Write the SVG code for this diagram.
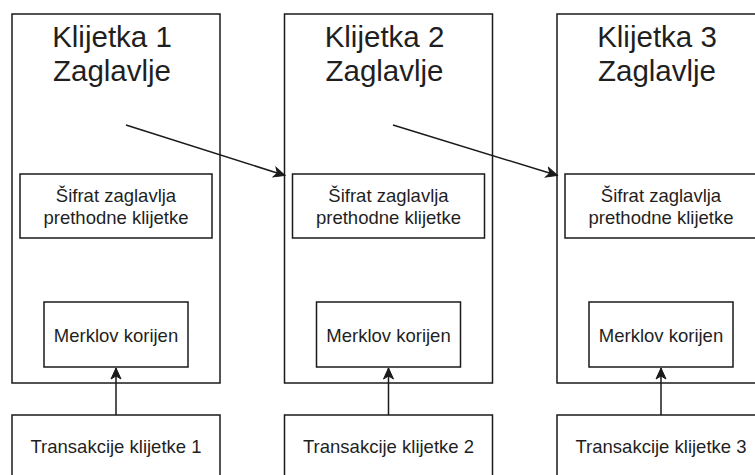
<svg xmlns="http://www.w3.org/2000/svg" width="755" height="475" viewBox="0 0 755 475">
<style>
.box{fill:#fff;stroke:#1a1a1a;stroke-width:1.5}
.t{font-family:"Liberation Sans",Arial,sans-serif;fill:#1f1f1f;text-anchor:middle}
.big{font-size:29.5px}
.sm{font-size:18.5px}
.edge{fill:none;stroke:#1a1a1a;stroke-width:1.5}
</style>
<defs>
<marker id="ah" markerUnits="userSpaceOnUse" markerWidth="14" markerHeight="12" viewBox="0 0 14 12" refX="12" refY="6" orient="auto">
<path d="M1,1 L12,6 L1,11 L4,6 Z" fill="#1a1a1a" stroke="#1a1a1a" stroke-width="1"/>
</marker>
</defs>
<rect width="755" height="475" fill="#fff"/>
<g id="block1">
<rect class="box" x="12" y="14" width="208" height="369"/>
<text class="t big" x="112" y="47">Klijetka 1</text>
<text class="t big" x="112" y="81">Zaglavlje</text>
</g>
<g id="prev1">
<rect class="box" x="20" y="174" width="192" height="64"/>
<text class="t sm" x="116" y="202">Šifrat zaglavlja</text>
<text class="t sm" x="116" y="224">prethodne klijetke</text>
</g>
<g id="merkle1">
<rect class="box" x="44" y="302" width="144" height="65"/>
<text class="t sm" x="116" y="342">Merklov korijen</text>
</g>
<g id="tx1">
<rect class="box" x="12" y="415" width="208" height="70"/>
<text class="t sm" x="116" y="453">Transakcije klijetke 1</text>
</g>
<g id="block2">
<rect class="box" x="284.5" y="14" width="208" height="369"/>
<text class="t big" x="384.5" y="47">Klijetka 2</text>
<text class="t big" x="384.5" y="81">Zaglavlje</text>
</g>
<g id="prev2">
<rect class="box" x="292.5" y="174" width="192" height="64"/>
<text class="t sm" x="388.5" y="202">Šifrat zaglavlja</text>
<text class="t sm" x="388.5" y="224">prethodne klijetke</text>
</g>
<g id="merkle2">
<rect class="box" x="316.5" y="302" width="144" height="65"/>
<text class="t sm" x="388.5" y="342">Merklov korijen</text>
</g>
<g id="tx2">
<rect class="box" x="284.5" y="415" width="208" height="70"/>
<text class="t sm" x="388.5" y="453">Transakcije klijetke 2</text>
</g>
<g id="block3">
<rect class="box" x="557" y="14" width="208" height="369"/>
<text class="t big" x="657" y="47">Klijetka 3</text>
<text class="t big" x="657" y="81">Zaglavlje</text>
</g>
<g id="prev3">
<rect class="box" x="565" y="174" width="191" height="64"/>
<text class="t sm" x="661" y="202">Šifrat zaglavlja</text>
<text class="t sm" x="661" y="224">prethodne klijetke</text>
</g>
<g id="merkle3">
<rect class="box" x="589" y="302" width="144" height="65"/>
<text class="t sm" x="661" y="342">Merklov korijen</text>
</g>
<g id="tx3">
<rect class="box" x="557" y="415" width="208" height="70"/>
<text class="t sm" x="661" y="453">Transakcije klijetke 3</text>
</g>
<g id="connectors">
<path class="edge" d="M126,125 L285,175.5" marker-end="url(#ah)"/>
<path class="edge" d="M393,125 L557.5,175.5" marker-end="url(#ah)"/>
<path class="edge" d="M116,415 L116,368" marker-end="url(#ah)"/>
<path class="edge" d="M388.5,415 L388.5,368" marker-end="url(#ah)"/>
<path class="edge" d="M661,415 L661,368" marker-end="url(#ah)"/>
</g>
</svg>
